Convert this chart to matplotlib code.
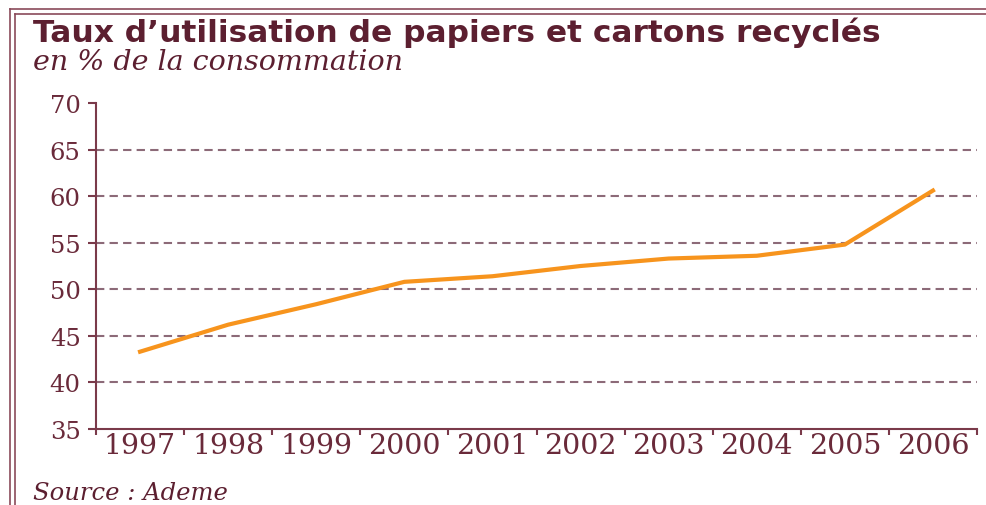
import matplotlib.pyplot as plt
from matplotlib.lines import Line2D

# Taux d'utilisation de papiers et cartons recyclés (Ademe)
years = ['1997', '1998', '1999', '2000', '2001', '2002', '2003', '2004', '2005', '2006']
rates = [43.3, 46.2, 48.4, 50.8, 51.4, 52.5, 53.3, 53.6, 54.8, 60.6]
y_ticks = [35, 40, 45, 50, 55, 60, 65, 70]

W, H = 987, 506
DARK = '#5c1f30'
TEXT = '#6a2a3a'
AXIS = '#7a3a4a'
GRID = '#8c6a78'
ORANGE = '#f7941d'

fig = plt.figure(figsize=(W / 100, H / 100), dpi=100)
fig.patch.set_facecolor('white')

def fx(px):
    return px / W

def fy(py):
    return 1 - py / H

# double frame line, open on the right and bottom
for off in (10, 15):
    fig.add_artist(Line2D([fx(off), fx(off)], [fy(off), 0], color='#8a4a5a', lw=1.2))
    fig.add_artist(Line2D([fx(off), 1], [fy(off), fy(off)], color='#8a4a5a', lw=1.2))

fig.text(fx(33), fy(33), "Taux d\u2019utilisation de papiers et cartons recyclés",
         fontsize=22.5, fontweight='bold', family='DejaVu Sans', color=DARK,
         ha='left', va='center')
fig.text(fx(33), fy(63), "en % de la consommation", fontsize=20.5, style='italic',
         family='DejaVu Serif', color=DARK, ha='left', va='center')
fig.text(fx(33), fy(494), "Source : Ademe", fontsize=17.5, style='italic',
         family='DejaVu Serif', color=DARK, ha='left', va='center')

ax = fig.add_axes([fx(96), fy(430), fx(977) - fx(96), fy(104) - fy(430)])
x = list(range(len(years)))

for lvl in y_ticks[1:-1]:
    ax.axhline(lvl, color=GRID, lw=1.5, linestyle=(0, (4, 2.5)), zorder=1)

ax.plot(x, rates, color=ORANGE, lw=3, solid_joinstyle='round', zorder=3)

ax.set_xlim(-0.5, len(years) - 0.5)
ax.set_ylim(y_ticks[0], y_ticks[-1])
ax.set_yticks(y_ticks)
ax.set_xticks(x)
ax.set_xticklabels(years)
ax.set_xticks([i - 0.5 for i in range(len(years) + 1)], minor=True)

ax.tick_params(axis='y', direction='out', length=6, width=1.5, color=AXIS,
               labelcolor=TEXT, labelsize=17.5, pad=5)
ax.tick_params(axis='x', which='major', length=0, labelcolor=TEXT, labelsize=20.5, pad=2)
ax.tick_params(axis='x', which='minor', direction='out', length=4, width=1.5, color=AXIS)
for lab in ax.get_xticklabels() + ax.get_yticklabels():
    lab.set_family('DejaVu Serif')

for side in ('top', 'right'):
    ax.spines[side].set_visible(False)
for side in ('left', 'bottom'):
    ax.spines[side].set_color(AXIS)
    ax.spines[side].set_linewidth(1.5)
ax.set_facecolor('none')

fig.savefig('out.png', dpi=100)
